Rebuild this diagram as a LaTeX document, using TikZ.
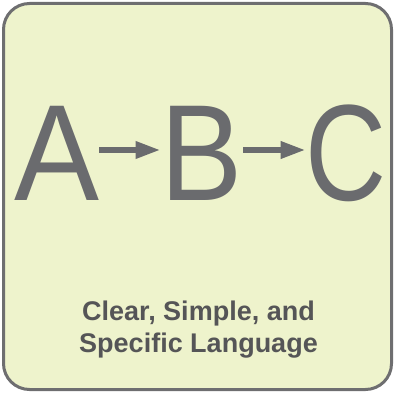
\documentclass[tikz,border=0pt]{standalone}
\usepackage{fontspec}
\setmainfont{Liberation Sans}
\usetikzlibrary{arrows.meta}
\definecolor{bg}{RGB}{238,243,204}
\definecolor{frame}{RGB}{110,110,112}
\definecolor{letter}{RGB}{106,107,110}
\definecolor{txt}{RGB}{85,85,87}
\tikzset{
  big/.style={inner sep=0pt, anchor=base, text=letter, font=\fontsize{137}{137}\selectfont},
  arr/.style={draw=letter, line width=6pt, -{Triangle[length=25pt,width=16pt]}},
  caption/.style={inner sep=0pt, text=txt, align=center, font=\bfseries\fontsize{27}{32}\selectfont}
}
\begin{document}
\begin{tikzpicture}[x=1pt,y=1pt]
\useasboundingbox (0,0) rectangle (395,393);
\draw[fill=bg, draw=frame, line width=3pt, rounded corners=26pt] (3.5,3.5) rectangle (391.5,389.5);
\node[big] (A) at (56.5,192) {\scalebox{0.93}[1]{A}};
\node[big] (B) at (202,192) {\scalebox{0.9}[1]{B}};
\node[big] (C) at (346.5,192) {\scalebox{0.82}[1]{C}};
\draw[arr] (A.east |- 0,243) -- (B.west |- 0,243);
\draw[arr] (B.east |- 0,243) -- (C.west |- 0,243);
\node[caption, anchor=base] (L) at (198.5,41) {Clear, Simple, and\\Specific Language};
\end{tikzpicture}
\end{document}
